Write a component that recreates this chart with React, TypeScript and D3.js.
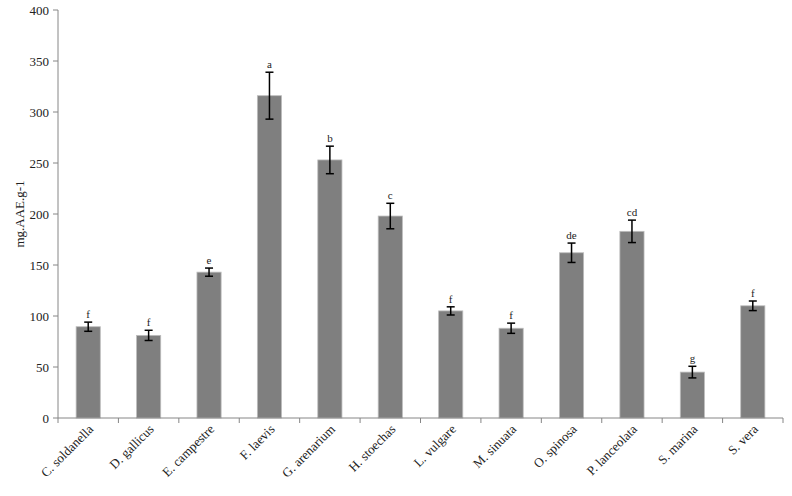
import React from "react";
import * as d3 from "d3";

const categories = ["C. soldanella", "D. gallicus", "E. campestre", "F. laevis", "G. arenarium", "H. stoechas", "L. vulgare", "M. sinuata", "O. spinosa", "P. lanceolata", "S. marina", "S. vera"];
const values = [89.5, 81, 143, 316, 253, 198, 105, 88, 162, 183, 45, 110];
const errors = [4.5, 5, 4, 23, 13.5, 12.5, 4, 5, 9.5, 11, 5.7, 4.7];
const letters = ["f", "f", "e", "a", "b", "c", "f", "f", "de", "cd", "g", "f"];
const yTicks = [0, 50, 100, 150, 200, 250, 300, 350, 400];

export default function App() {
  const W = 792, H = 496;
  const left = 58, right = 783, top = 10, bottom = 418;
  const font = "'Liberation Serif', 'DejaVu Serif', serif";
  const x = d3.scaleBand<string>().domain(categories).range([left, right]).paddingInner(0.6).paddingOuter(0.3);
  const xb = d3.scaleBand<string>().domain(categories).range([left, right]);
  const y = d3.scaleLinear().domain([0, 400]).range([bottom, top]);
  const axisColor = "#868686";
  return (
    <svg width={W} height={H} style={{ position: "absolute", left: 0, top: 0, background: "#fff" }}>
      <line x1={left} x2={left} y1={top} y2={bottom} stroke={axisColor} strokeWidth={1} />
      {yTicks.map((t) => (
        <g key={t}>
          <line x1={left - 5} x2={left} y1={y(t)} y2={y(t)} stroke={axisColor} />
          <text x={left - 9} y={y(t)} dy="0.35em" textAnchor="end" fontFamily={font} fontSize={13} fill="#222">{t}</text>
        </g>
      ))}
      <g transform={`translate(19,${(top + bottom) / 2}) rotate(-90)`}>
        <text textAnchor="middle" dy="0.35em" fontFamily={font} fontSize={13} fill="#222">mg.AAE.g-1</text>
      </g>
      {categories.map((c, i) => {
        const cx = (x(c) as number) + x.bandwidth() / 2;
        const yt = y(values[i] + errors[i]);
        const yb = y(values[i] - errors[i]);
        return (
          <g key={c}>
            <rect x={x(c)} y={y(values[i])} width={x.bandwidth()} height={bottom - y(values[i])} fill="#7f7f7f" stroke="#bdbdbd" strokeWidth={0.8} />
            <line x1={cx} x2={cx} y1={yt} y2={yb} stroke="#000" strokeWidth={1.5} />
            <line x1={cx - 4} x2={cx + 4} y1={yt} y2={yt} stroke="#000" strokeWidth={1.5} />
            <line x1={cx - 4} x2={cx + 4} y1={yb} y2={yb} stroke="#000" strokeWidth={1.5} />
            <text x={cx} y={yt - 4} textAnchor="middle" fontFamily={font} fontSize={11} fill="#222">{letters[i]}</text>
            <g transform={`translate(${cx + 6},${bottom + 12}) rotate(-45)`}>
              <text textAnchor="end" fontFamily={font} fontSize={13} fill="#222">{c}</text>
            </g>
          </g>
        );
      })}
      <line x1={left} x2={right} y1={bottom} y2={bottom} stroke={axisColor} />
      {[...categories.map((c) => xb(c) as number), right].map((px, i) => (
        <line key={i} x1={px} x2={px} y1={bottom} y2={bottom + 5} stroke={axisColor} />
      ))}
    </svg>
  );
}
